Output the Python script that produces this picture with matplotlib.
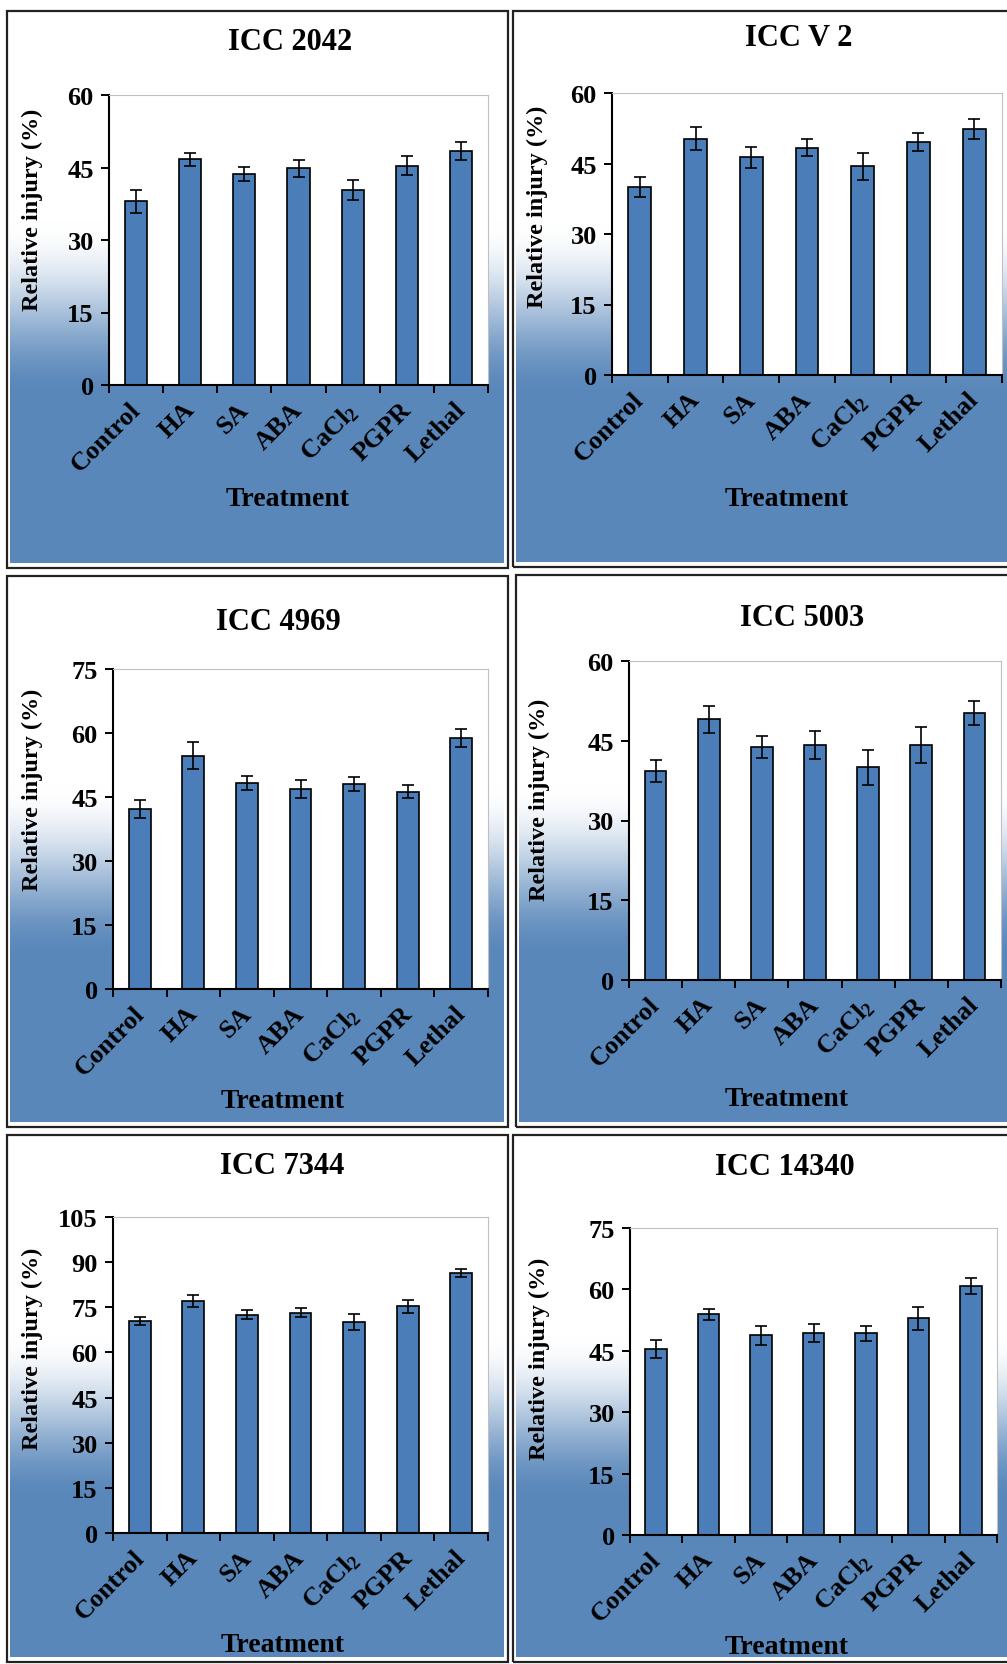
import numpy as np
import matplotlib
matplotlib.use("Agg")
import matplotlib.pyplot as plt
from matplotlib.patches import Rectangle

plt.rcParams['font.family'] = ['Liberation Serif', 'DejaVu Serif']
plt.rcParams['font.weight'] = 'bold'
plt.rcParams['mathtext.fontset'] = 'custom'
plt.rcParams['mathtext.rm'] = 'Liberation Serif:bold'
plt.rcParams['mathtext.default'] = 'rm'

# data
treatments = ["Control", "HA", "SA", "ABA", "CaCl$_2$", "PGPR", "Lethal"]

titles = ["ICC 2042", "ICC V 2", "ICC 4969", "ICC 5003", "ICC 7344", "ICC 14340"]
y_max = [60, 60, 75, 60, 105, 75]

icc2042 = [38.0, 46.7, 43.6, 44.8, 40.4, 45.4, 48.4]
icc2042_err = [2.4, 1.4, 1.45, 1.7, 2.1, 1.9, 1.95]
iccv2 = [40.0, 50.3, 46.3, 48.4, 44.4, 49.6, 52.4]
iccv2_err = [2.05, 2.4, 2.25, 1.8, 2.85, 1.9, 2.1]
icc4969 = [42.1, 54.7, 48.3, 46.9, 48.0, 46.2, 58.8]
icc4969_err = [2.1, 3.1, 1.6, 2.2, 1.7, 1.5, 2.1]
icc5003 = [39.3, 49.0, 43.8, 44.2, 40.0, 44.2, 50.2]
icc5003_err = [2.1, 2.5, 2.1, 2.55, 3.25, 3.4, 2.3]
icc7344 = [70.4, 77.0, 72.5, 73.2, 70.2, 75.3, 86.3]
icc7344_err = [1.4, 1.95, 1.5, 1.4, 2.65, 2.1, 1.3]
icc14340 = [45.5, 53.9, 48.8, 49.3, 49.3, 52.9, 60.8]
icc14340_err = [2.25, 1.3, 2.3, 2.2, 1.85, 2.7, 2.0]

values = [icc2042, iccv2, icc4969, icc5003, icc7344, icc14340]
errors = [icc2042_err, iccv2_err, icc4969_err, icc5003_err, icc7344_err, icc14340_err]

W, H = 1007, 1665
fig = plt.figure(figsize=(W / 100, H / 100), dpi=100)
fig.patch.set_facecolor('white')


def frect(x0, y0, x1, y1):
    return [x0 / W, 1 - y1 / H, (x1 - x0) / W, (y1 - y0) / H]


# layout in pixels: panel box, plot area, title, y label, x label
panels = [(7, 12, 508, 569), (513, 12, 1012, 568),
          (7, 577, 508, 1128), (516, 576, 1012, 1128),
          (7, 1136, 508, 1663), (513, 1136, 1012, 1663)]
plot_areas = [(109, 96, 488, 386), (612, 94, 1002, 376),
              (113, 670, 488, 990), (629, 662, 1001, 981),
              (113, 1218, 488, 1534), (630, 1229, 997, 1536)]
title_pos = [(290, 43), (799, 38), (278, 623), (802, 618), (282, 1167), (785, 1168)]
ylab_pos = [(32, 210), (537, 207), (32, 790), (539, 800), (32, 1349), (539, 1359)]
xlab_pos = [(288, 500), (787, 499), (283, 1101), (787, 1100), (283, 1646), (787, 1648)]

bg_blue = np.array([0.35, 0.53, 0.73])
bar_color = '#4b7db9'

# vertical white -> blue gradient
t = np.linspace(0, 1, 400)
s = np.clip((t - 0.38) / 0.32, 0, 1)
s = s * s * (3 - 2 * s)
grad = (1 - s)[:, None] * np.ones(3) + s[:, None] * bg_blue
grad = grad[:, None, :]

x = np.arange(len(treatments))

for i in range(6):
    px0, py0, px1, py1 = panels[i]
    bg = fig.add_axes(frect(px0 + 3, py0 + 3, px1 - 4, py1 - 5))
    bg.imshow(grad, aspect='auto', extent=[0, 1, 0, 1])
    bg.set_axis_off()
    fig.add_artist(Rectangle((px0 / W, 1 - py1 / H), (px1 - px0) / W, (py1 - py0) / H,
                             transform=fig.transFigure, fill=False,
                             edgecolor='#222222', linewidth=1.6))

    ax = fig.add_axes(frect(*plot_areas[i]))
    ax.set_facecolor('white')
    ax.bar(x, values[i], width=0.41, color=bar_color, edgecolor='black', linewidth=1.2,
           yerr=errors[i], capsize=4,
           error_kw=dict(ecolor='black', elinewidth=1.2, capthick=1.2))
    ax.set_xlim(-0.5, 6.5)
    ax.set_ylim(0, y_max[i])
    ax.set_yticks(np.arange(0, y_max[i] + 1, 15))
    ax.set_xticks(np.arange(-0.5, 7, 1))
    ax.set_xticklabels([])
    ax.set_xticks(x - 0.14, minor=True)
    ax.set_xticklabels(treatments, minor=True, rotation=45, ha='right', va='top',
                       rotation_mode='anchor', fontsize=19, fontweight='bold')
    ax.tick_params(axis='x', which='minor', length=0, pad=9)
    ax.tick_params(axis='x', which='major', direction='out', length=6, width=1.4)
    ax.tick_params(axis='y', direction='out', length=6, width=1.4, labelsize=19, pad=5)
    for lab in ax.get_yticklabels():
        lab.set_fontweight('bold')
    ax.spines['left'].set_linewidth(1.5)
    ax.spines['bottom'].set_linewidth(1.5)
    ax.spines['top'].set_color('#c0c0c0')
    ax.spines['right'].set_color('#c0c0c0')
    ax.spines['top'].set_linewidth(0.8)
    ax.spines['right'].set_linewidth(0.8)

    tx, ty = title_pos[i]
    fig.text(tx / W, 1 - ty / H, titles[i], ha='center', va='center',
             fontsize=22, fontweight='bold')
    lx, ly = ylab_pos[i]
    fig.text(lx / W, 1 - ly / H, "Relative injury (%)", ha='center', va='center',
             rotation=90, fontsize=17.5, fontweight='bold')
    xx, xy = xlab_pos[i]
    fig.text(xx / W, 1 - xy / H, "Treatment", ha='center', va='center',
             fontsize=20, fontweight='bold')

fig.savefig("out.png", dpi=100)
